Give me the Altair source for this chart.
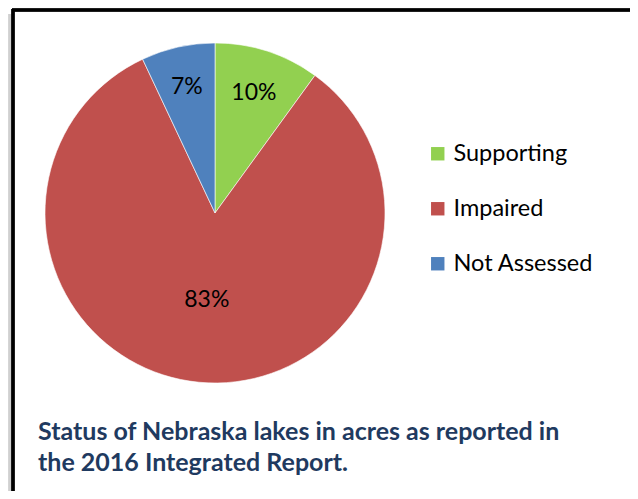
import altair as alt
import pandas as pd

categories = ["Supporting", "Impaired", "Not Assessed"]
percents = [10, 83, 7]
labels = ["10%", "83%", "7%"]
colors = ["#92D050", "#C0504D", "#4F81BD"]
label_radius = [126, 87, 129]

caption = ("Status of Nebraska lakes in acres as reported in\n"
           "the 2016 Integrated Report.")

df = pd.DataFrame({
    "category": categories,
    "value": percents,
    "label": labels,
    "order": [0, 1, 2],
    "lr": label_radius,
})

W, H = 622, 483
CX, CY, R = 207, 205, 170
FONT = "Lato"

base = alt.Chart(df)

pie = base.mark_arc(radius=R, stroke="white", strokeWidth=0.6).encode(
    x=alt.value(CX), y=alt.value(CY),
    theta=alt.Theta("value:Q", stack=True),
    order=alt.Order("order:Q"),
    color=alt.Color(
        "category:N",
        scale=alt.Scale(domain=categories, range=colors),
        sort=categories,
        legend=alt.Legend(
            title=None,
            orient="none",
            legendX=418,
            legendY=134,
            symbolType="square",
            symbolSize=180,
            symbolStrokeWidth=0,
            labelFont=FONT,
            labelFontSize=23.5,
            labelColor="#000000",
            rowPadding=30,
            labelOffset=4,
            padding=0,
        ),
    ),
)

text = base.transform_window(
    cum="sum(value)", sort=[alt.SortField("order")]
).transform_calculate(
    mid="datum.cum - datum.value / 2"
).mark_text(font=FONT, fontSize=23, color="#000000",
            baseline="middle", align="center").encode(
    x=alt.value(CX), y=alt.value(CY),
    theta=alt.Theta("mid:Q", scale=alt.Scale(domain=[0, 100], range=[0, 6.283185307179586])),
    radius=alt.Radius("lr:Q", scale=None),
    text="label:N",
)

frame_v = alt.Chart(df).mark_rule(color="#000000", strokeWidth=3).encode(
    x=alt.value(5), y=alt.value(1), y2=alt.value(H)
)
frame_h = alt.Chart(df).mark_rule(color="#000000", strokeWidth=3).encode(
    y=alt.value(2), x=alt.value(4), x2=alt.value(W)
)
shadow = alt.Chart(df).mark_rule(color="#d0d0d0", strokeWidth=3).encode(
    x=alt.value(2), y=alt.value(6), y2=alt.value(H)
)

cap = alt.Chart(pd.DataFrame({"t": [caption]})).mark_text(
    font=FONT, fontSize=25, fontWeight="bold", color="#1F3A60",
    align="left", baseline="alphabetic", lineBreak="\n", lineHeight=31,
).encode(
    x=alt.value(30),
    y=alt.value(432),
    text="t:N",
)

chart = alt.layer(
    shadow, frame_v, frame_h, pie, text, cap,
).properties(
    width=W, height=H, padding=0,
    autosize=alt.AutoSizeParams(type="none"),
    background="white",
).configure_view(stroke=None)

chart.save("out.html", embed_options={"renderer": "svg", "actions": False})
